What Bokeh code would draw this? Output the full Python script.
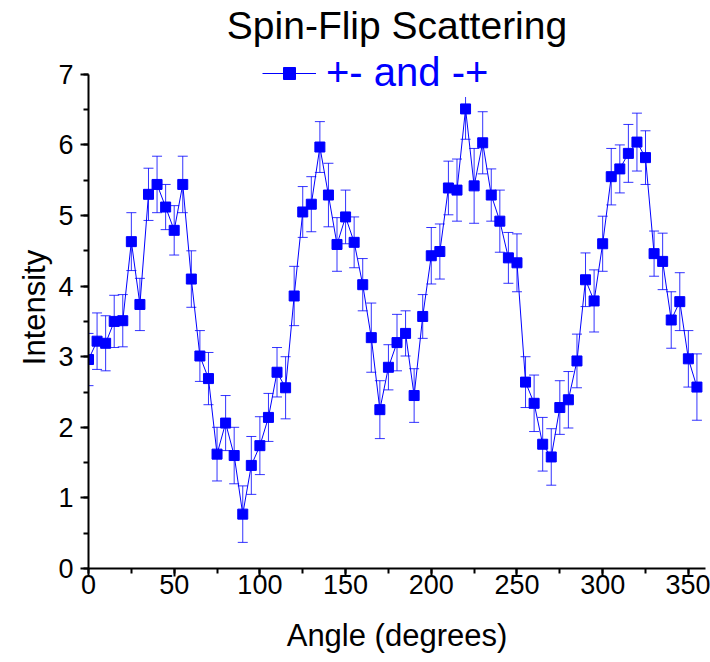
from bokeh.plotting import figure
from bokeh.models import (ColumnDataSource, Whisker, TeeHead, Legend, LegendItem,
                          SingleIntervalTicker, Range1d)
from bokeh.embed import file_html
from bokeh.resources import INLINE

angle = list(range(0, 360, 5))
intensity = [2.96, 3.22, 3.19, 3.50, 3.51, 4.63, 3.74, 5.30, 5.44, 5.12,
             4.79, 5.44, 4.10, 3.01, 2.69, 1.62, 2.06, 1.60, 0.77, 1.46,
             1.74, 2.14, 2.78, 2.56, 3.86, 5.05, 5.16, 5.97, 5.29, 4.59,
             4.98, 4.62, 4.02, 3.27, 2.25, 2.85, 3.20, 3.33, 2.45, 3.57,
             4.43, 4.49, 5.39, 5.36, 6.51, 5.42, 6.03, 5.29, 4.92, 4.40,
             4.33, 2.64, 2.34, 1.76, 1.58, 2.28, 2.39, 2.94, 4.09, 3.79,
             4.60, 5.55, 5.66, 5.88, 6.04, 5.82, 4.46, 4.35, 3.52, 3.78,
             2.97, 2.57]
error = [0.37, 0.40, 0.39, 0.37, 0.37, 0.41, 0.37, 0.37, 0.40, 0.32,
         0.35, 0.40, 0.40, 0.36, 0.37, 0.38, 0.39, 0.40, 0.40, 0.41,
         0.41, 0.34, 0.35, 0.44, 0.42, 0.36, 0.39, 0.36, 0.45, 0.38,
         0.38, 0.36, 0.37, 0.49, 0.41, 0.32, 0.40, 0.32, 0.38, 0.31,
         0.40, 0.39, 0.38, 0.44, 0.43, 0.53, 0.44, 0.37, 0.44, 0.36,
         0.41, 0.36, 0.40, 0.38, 0.40, 0.38, 0.40, 0.38, 0.38, 0.44,
         0.39, 0.40, 0.34, 0.41, 0.41, 0.38, 0.32, 0.40, 0.40, 0.41,
         0.40, 0.47]

series_label = "+- and -+"
title_text = "Spin-Flip Scattering"
x_label = "Angle (degrees)"
y_label = "Intensity"

src = ColumnDataSource(dict(
    x=angle, y=intensity,
    upper=[v + e for v, e in zip(intensity, error)],
    lower=[v - e for v, e in zip(intensity, error)],
))

FONT = "Liberation Sans"

# frame extends a little above 7 so that the legend (which overlaps the top
# of the axis in the original) is not clipped; the axis itself stops at 7.
p = figure(width=710, height=662, output_backend="svg", toolbar_location=None,
           x_range=Range1d(0, 360), y_range=Range1d(0, 7.394),
           min_border_left=88, min_border_right=5, min_border_top=46,
           min_border_bottom=94)
p.outline_line_color = None
p.grid.visible = False
p.background_fill_color = "white"
p.border_fill_color = "white"

p.title.text = title_text
p.title.text_font = FONT
p.title.text_font_size = "39px"
p.title.text_font_style = "normal"
p.title.text_color = "black"
p.title.align = "center"
p.title.standoff = 0

whisk = Whisker(base="x", upper="upper", lower="lower", source=src,
                line_color="blue", line_width=1, line_alpha=0.8, level="underlay",
                upper_head=TeeHead(size=10, line_color="blue", line_width=1, line_alpha=0.8),
                lower_head=TeeHead(size=10, line_color="blue", line_width=1, line_alpha=0.8))
p.add_layout(whisk)

ln = p.line("x", "y", source=src, line_color="blue", line_width=1)
sc = p.scatter("x", "y", source=src, marker="square", size=10,
               fill_color="blue", line_color="blue")

for ax in (p.xaxis[0], p.yaxis[0]):
    ax.axis_line_width = 2
    ax.major_tick_line_width = 2
    ax.minor_tick_line_width = 2
    ax.major_tick_in = 0
    ax.major_tick_out = 8
    ax.minor_tick_in = 0
    ax.minor_tick_out = 5
    ax.major_label_text_font = FONT
    ax.major_label_text_font_size = "27px"
    ax.major_label_text_color = "black"
    ax.axis_label_text_font = FONT
    ax.axis_label_text_font_size = "31px"
    ax.axis_label_text_font_style = "normal"
    ax.axis_label_text_color = "black"

p.xaxis.ticker = SingleIntervalTicker(interval=50, num_minor_ticks=2)
p.yaxis.ticker = SingleIntervalTicker(interval=1, num_minor_ticks=2)
p.yaxis.bounds = (0, 7)
p.xaxis.axis_label = x_label
p.yaxis.axis_label = y_label
p.xaxis.major_label_standoff = -2
p.yaxis.major_label_standoff = 7
p.xaxis.axis_label_standoff = 21
p.yaxis.axis_label_standoff = 3

legend = Legend(items=[LegendItem(label=series_label, renderers=[ln, sc])],
                location=(172, 471), orientation="vertical",
                label_text_font=FONT, label_text_font_size="40px",
                label_text_color="blue", glyph_width=54, glyph_height=30,
                label_standoff=10, padding=2, margin=0, spacing=0,
                border_line_alpha=0, background_fill_color="white",
                background_fill_alpha=1.0)
p.add_layout(legend, "center")

open("out.html", "w").write(file_html(p, INLINE))
